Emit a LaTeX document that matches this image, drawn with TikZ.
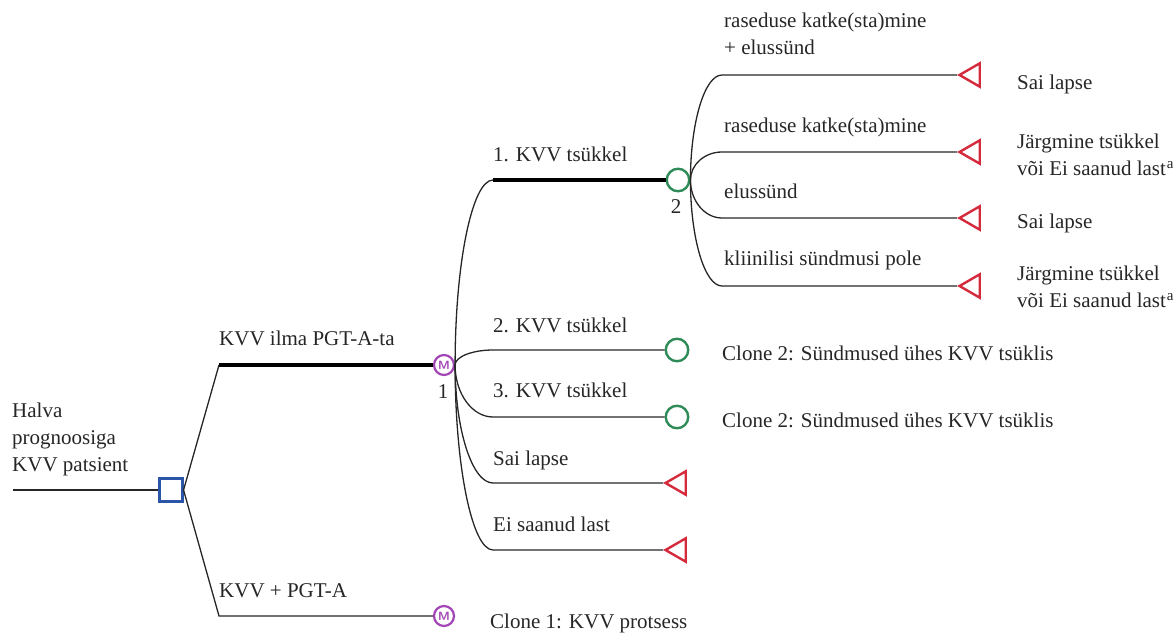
\documentclass[tikz,border=0pt]{standalone}
\usepackage{fontspec}
\setmainfont{Liberation Serif}
\usetikzlibrary{shapes.geometric,calc}
\definecolor{dblue}{HTML}{2B55A6}
\definecolor{dgreen}{HTML}{2E8B57}
\definecolor{dpurple}{HTML}{A245B5}
\definecolor{dred}{HTML}{D42A3C}
\definecolor{ink}{HTML}{262626}
\newcommand{\supa}{\kern1pt\raisebox{7pt}{\fontsize{15}{15}\selectfont a}}
\begin{document}
\begin{tikzpicture}[x=1pt,y=-1pt,
  font=\fontsize{21}{27}\selectfont, text=ink,
  lbl/.style={anchor=base west, inner sep=0, align=left},
  lblc/.style={anchor=base, inner sep=0},
  conn/.style={line width=1.3pt, draw=ink},
  heavy/.style={line width=4pt, draw=black},
  decision/.style={rectangle, draw=dblue, line width=2.6pt, minimum size=22.5pt, inner sep=0},
  chance/.style={circle, draw=dgreen, line width=2.4pt, minimum size=22.5pt, inner sep=0},
  markov/.style={circle, draw=dpurple, line width=2.2pt, minimum size=20pt, inner sep=0,
    text=dpurple, font=\sffamily\bfseries\fontsize{12}{12}\selectfont},
  term/.style={regular polygon, regular polygon sides=3, shape border rotate=90,
    draw=dred, line width=2.4pt, minimum size=27pt, inner sep=0}
]
\useasboundingbox (0,0) rectangle (1174,634);

% rounded branch from node anchor #1 to corner coordinate #2
\def\branch#1#2{%
  (#1) .. controls ($(#1)!0.55!(#1 |- #2)$) and ($(#2)!0.55!(#1 |- #2)$) .. (#2)}

% root
\coordinate (start) at (13,490);
\node[decision] (d) at (171,490) {};
\node[lbl] (tHalva) at (12,471) {Halva\\prognoosiga\\KVV patsient};
\draw[conn] (start) -- (d);

% strategies
\coordinate (cA) at (219,365);
\coordinate (cB) at (219,616);
\node[markov] (m1) at (444,365) {M};
\node[markov] (m2) at (444,616) {M};
\draw[conn] (d.east) -- (cA);
\draw[heavy] (cA) -- (m1);
\draw[conn] (d.east) -- (cB) -- (m2);
\node[lbl] (tA) at (219,345) {KVV ilma PGT-A-ta};
\node[lbl] (tB) at (219,597) {KVV + PGT-A};
\node[lblc] (n1) at (443,398) {1};
\node[lbl] (clone1) at (490,628) {Clone 1: KVV protsess};

% markov states
\coordinate (c1) at (493,180);
\coordinate (c2) at (493,350);
\coordinate (c3) at (493,417);
\coordinate (c4) at (493,483);
\coordinate (c5) at (493,550);
\node[chance] (g1) at (678,180) {};
\node[chance] (g2) at (677,350) {};
\node[chance] (g3) at (677,417) {};
\node[term] (s1) at (679,483) {};
\node[term] (s2) at (679,550) {};
\draw[conn] \branch{m1.east}{c1};
\draw[heavy] (c1) -- (g1);
\draw[conn] \branch{m1.east}{c2} -- (g2);
\draw[conn] \branch{m1.east}{c3} -- (g3);
\draw[conn] \branch{m1.east}{c4} -- (s1);
\draw[conn] \branch{m1.east}{c5} -- (s2);
\node[lbl] at (493,161) {1. KVV tsükkel};
\node[lbl] at (493,332) {2. KVV tsükkel};
\node[lbl] at (493,397) {3. KVV tsükkel};
\node[lbl] at (493,465) {Sai lapse};
\node[lbl] at (493,531) {Ei saanud last};
\node[lblc] (n2) at (676,213) {2};
\node[lbl] (clone2a) at (722,360) {Clone 2: Sündmused ühes KVV tsüklis};
\node[lbl] (clone2b) at (722,427) {Clone 2: Sündmused ühes KVV tsüklis};

% cycle events
\coordinate (e1) at (722,75);
\coordinate (e2) at (722,152);
\coordinate (e3) at (722,218);
\coordinate (e4) at (722,286);
\node[term] (t1) at (973,75) {};
\node[term] (t2) at (973,152) {};
\node[term] (t3) at (973,218) {};
\node[term] (t4) at (973,286) {};
\draw[conn] \branch{g1.east}{e1} -- (t1);
\draw[conn] \branch{g1.east}{e2} -- (t2);
\draw[conn] \branch{g1.east}{e3} -- (t3);
\draw[conn] \branch{g1.east}{e4} -- (t4);
\node[lbl] at (724,55) {raseduse katke(sta)mine\\+ elussünd};
\node[lbl] at (724,132) {raseduse katke(sta)mine};
\node[lbl] at (724,198) {elussünd};
\node[lbl] at (724,265) {kliinilisi sündmusi pole};
\node[lbl] at (1017,89) {Sai lapse};
\node[lbl] at (1017,175) {Järgmine tsükkel\\või Ei saanud last\supa};
\node[lbl] at (1017,228) {Sai lapse};
\node[lbl] at (1017,307) {Järgmine tsükkel\\või Ei saanud last\supa};
\end{tikzpicture}
\end{document}
